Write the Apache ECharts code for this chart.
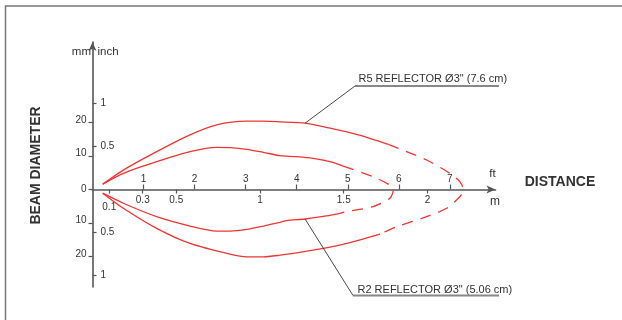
<!DOCTYPE html>
<html>
<head>
<meta charset="utf-8">
<script src="https://cdn.jsdelivr.net/npm/echarts@6/dist/echarts.min.js"></script>
<style>
html,body{margin:0;padding:0;background:#fff;}
#chart{width:622px;height:320px;}
</style>
</head>
<body>
<div id="chart"></div>
<script>
// distance in m, beam half-diameter in mm (above axis +, below axis -)
var r5Upper = [[0.061,1.6],[0.184,5.8],[0.383,11.3],[0.582,16.3],[0.741,19.3],[0.921,20.4],[1.020,20.4],[1.119,20.2],[1.269,19.8],[1.418,18.3],[1.587,16.3],[1.766,13.5]];
var r5Tip = [[1.766,13.5],[1.995,8.8],[2.134,4.8],[2.194,2.3],[2.214,-0.1],[2.194,-2.1],[2.115,-5.6],[1.995,-8.1],[1.816,-11.1],[1.716,-13.3]];
var r5Lower = [[1.716,-13.3],[1.518,-16.1],[1.378,-17.6],[1.219,-18.9],[1.119,-19.6],[1.020,-20.1],[0.921,-20.1],[0.821,-19.3],[0.582,-16.1],[0.383,-11.6],[0.184,-5.6],[0.061,-1.1]];
var r2Upper = [[0.061,1.6],[0.184,4.8],[0.383,8.3],[0.582,11.3],[0.741,12.6],[0.821,12.5],[0.921,12.0],[1.020,11.1],[1.119,10.1],[1.219,9.8],[1.318,9.3],[1.418,8.3],[1.497,7.0]];
var r2Tip = [[1.497,7.0],[1.676,3.8],[1.776,1.3],[1.796,-0.1],[1.776,-2.6],[1.676,-5.1],[1.518,-6.6],[1.478,-7.1]];
var r2Lower = [[1.478,-7.1],[1.368,-8.1],[1.269,-8.8],[1.159,-9.3],[1.119,-9.8],[1.020,-10.9],[0.921,-11.9],[0.821,-12.4],[0.741,-12.4],[0.582,-10.9],[0.383,-8.1],[0.184,-4.1],[0.061,-1.1]];

var mTicks = [0.1,0.3,0.5,1,1.5,2];
var ftTicks = [1,2,3,4,5,6,7];
var mmTicks = [-20,-10,0,10,20];
var inchTicks = [-1,-0.5,0.5,1];

var labelR5 = 'R5 REFLECTOR Ø3" (7.6 cm)';
var labelR2 = 'R2 REFLECTOR Ø3" (5.06 cm)';
var r5Anchor = [1.269,19.8];
var r2Anchor = [1.269,-8.8];

var FONT = "'Liberation Sans', Arial, Helvetica, sans-serif";
var RED = '#ee3535';
var AXIS = '#555';
var TXT = '#333';
var X_OFFSET = -97.5; // puts the distance axis on the 0 mm line

function seg(data, dashed){
	return {
		type:'line',
		data:data,
		xAxisIndex:0,
		yAxisIndex:0,
		smooth:0.25,
		symbol:'none',
		silent:true,
		lineStyle:{color:RED,width:1.3,type:dashed ? [11,8] : 'solid'}
	};
}

var chart = echarts.init(document.getElementById('chart'));
var option = {
	animation:false,
	backgroundColor:'#fff',
	grid:{left:92.5,top:42,width:403,height:245,containLabel:false,outerBoundsMode:'none'},
	xAxis:[
		{
			type:'value',min:0,max:2.406,position:'bottom',offset:X_OFFSET,
			axisLine:{show:true,onZero:false,symbol:['none','arrow'],symbolSize:[6,9],lineStyle:{color:AXIS,width:1.6}},
			axisTick:{show:true,length:4,customValues:mTicks,lineStyle:{color:AXIS,width:1.2}},
			axisLabel:{
				customValues:mTicks,margin:6,color:TXT,fontSize:10,fontFamily:FONT,
				formatter:function(v){ return v === 0.1 ? '{low|0.1}' : String(v); },
				rich:{low:{padding:[7,0,0,0],fontSize:10,fontFamily:FONT,color:TXT}}
			},
			splitLine:{show:false}
		},
		{
			type:'value',min:0,max:2.406/0.3048,position:'bottom',offset:X_OFFSET,
			axisLine:{show:false,onZero:false},
			axisTick:{show:true,inside:true,length:5,customValues:ftTicks,lineStyle:{color:AXIS,width:1.2}},
			axisLabel:{inside:true,customValues:ftTicks,margin:5,color:TXT,fontSize:10,fontFamily:FONT},
			splitLine:{show:false}
		}
	],
	yAxis:[
		{
			type:'value',min:-29.1,max:44.03,position:'left',
			axisLine:{show:true,onZero:false,symbol:['none','arrow'],symbolSize:[6,9],lineStyle:{color:AXIS,width:1.6}},
			axisTick:{show:true,length:4,customValues:mmTicks,lineStyle:{color:AXIS,width:1.2}},
			axisLabel:{
				customValues:mmTicks,margin:6,color:TXT,fontSize:10,fontFamily:FONT,
				formatter:function(v){ var s = String(Math.abs(v)); return v === 0 ? s : '{up|' + s + '}'; },
				rich:{up:{padding:[0,0,5,0],fontSize:10,fontFamily:FONT,color:TXT}}
			},
			splitLine:{show:false}
		},
		{
			type:'value',min:-1.131,max:1.711,position:'left',
			axisLine:{show:false,onZero:false},
			axisTick:{show:true,inside:true,length:4,customValues:inchTicks,lineStyle:{color:AXIS,width:1.2}},
			axisLabel:{
				inside:true,customValues:inchTicks,margin:8,color:TXT,fontSize:10,fontFamily:FONT,
				formatter:function(v){ return String(Math.abs(v)); }
			},
			splitLine:{show:false}
		}
	],
	series:[
		seg(r5Upper,false),seg(r5Tip,true),seg(r5Lower,false),
		seg(r2Upper,false),seg(r2Tip,true),seg(r2Lower,false)
	]
};
chart.setOption(option);

//annotations
var p5 = chart.convertToPixel({gridIndex:0},r5Anchor);
var p2 = chart.convertToPixel({gridIndex:0},r2Anchor);
function txt(text,x,y,size,align,bold,rot){
	return {
		type:'text',x:x,y:y,rotation:rot || 0,silent:true,z:10,
		style:{text:text,fill:TXT,fontSize:size,fontFamily:FONT,fontWeight:bold ? 'bold' : 'normal',align:align,verticalAlign:'middle'}
	};
}
function ln(x1,y1,x2,y2,color,w){
	return {type:'line',silent:true,z:10,shape:{x1:x1,y1:y1,x2:x2,y2:y2},style:{stroke:color,lineWidth:w}};
}
chart.setOption({
	graphic:[
		{type:'rect',silent:true,shape:{x:5.5,y:6,width:700,height:400},style:{fill:'none',stroke:'#777',lineWidth:1.5}},
		txt('mm',91,52,11.5,'right'),
		txt('inch',97.5,52,11.5,'left'),
		txt('ft',492.5,174,11.5,'center'),
		txt('m',495,201.5,12,'center'),
		txt('DISTANCE',560,182.5,14,'center',true),
		txt('BEAM DIAMETER',36,165.5,14,'center',true,Math.PI/2),
		txt(labelR5,358.5,78.5,11,'left'),
		txt(labelR2,357.5,289.5,11,'left'),
		ln(355,86,499,86,'#888',2),
		ln(353,295.5,499,295.5,'#888',2),
		ln(355,86,p5[0],p5[1],'#333',0.9),
		ln(353,295.5,p2[0],p2[1],'#333',0.9)
	]
});
</script>
</body>
</html>
